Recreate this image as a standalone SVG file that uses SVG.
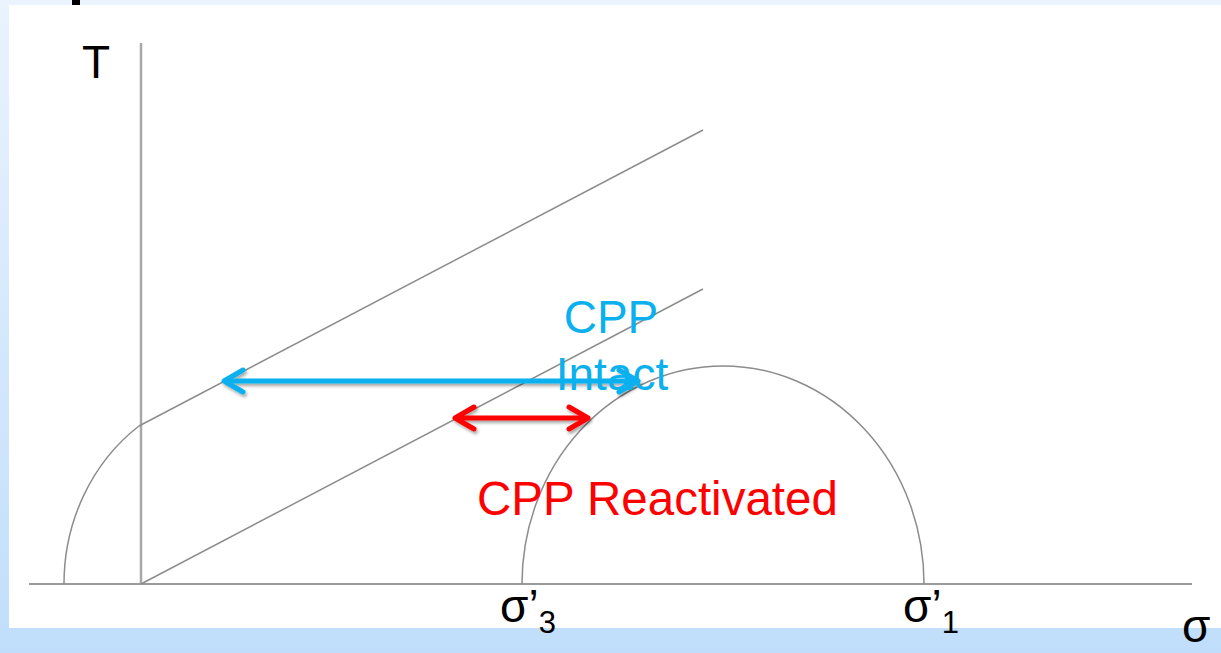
<svg xmlns="http://www.w3.org/2000/svg" width="1221" height="653" viewBox="0 0 1221 653">
  <defs>
    <linearGradient id="bg" x1="0" y1="0" x2="0" y2="1">
      <stop offset="0" stop-color="#eaf3fe"/>
      <stop offset="1" stop-color="#c0defb"/>
    </linearGradient>
    <filter id="shadow" filterUnits="userSpaceOnUse" x="0" y="300" width="1221" height="200">
      <feDropShadow dx="1.5" dy="2.5" stdDeviation="1.5" flood-color="#000" flood-opacity="0.35"/>
    </filter>
    <marker id="headBlue" markerUnits="userSpaceOnUse" viewBox="-24 -14 28 28" refX="0" refY="0" markerWidth="28" markerHeight="28" orient="auto-start-reverse" overflow="visible">
      <path d="M -19 -11 L 0 0 L -19 11" fill="none" stroke="#0bb0ee" stroke-width="5" stroke-linecap="round" stroke-linejoin="round"/>
    </marker>
    <marker id="headRed" markerUnits="userSpaceOnUse" viewBox="-24 -14 28 28" refX="0" refY="0" markerWidth="28" markerHeight="28" orient="auto-start-reverse" overflow="visible">
      <path d="M -19 -11 L 0 0 L -19 11" fill="none" stroke="#ff0000" stroke-width="5" stroke-linecap="round" stroke-linejoin="round"/>
    </marker>
    <style>
      .txt { font-family: "Liberation Sans", Arial, sans-serif; }
      .axis { stroke: #a8a8a8; stroke-width: 2.5; fill: none; }
      .haxis { stroke: #9a9a9a; stroke-width: 2; fill: none; }
      .thin { stroke: #8c8c8c; stroke-width: 1.5; fill: none; }
    </style>
  </defs>

  <g id="background">
    <rect x="0" y="0" width="1221" height="653" fill="url(#bg)"/>
    <rect x="9" y="5" width="1212" height="623" fill="#ffffff"/>
    <rect x="72" y="0" width="8" height="5" fill="#000000"/>
  </g>

  <g id="axes">
    <line class="axis" x1="141" y1="43" x2="141" y2="584"/>
    <line class="haxis" x1="29" y1="584" x2="1192" y2="584"/>
  </g>

  <g id="envelopes">
    <line id="upper-line" class="thin" x1="139" y1="426" x2="703" y2="130"/>
    <line id="lower-line" class="thin" x1="141" y1="584" x2="703" y2="289"/>
    <path id="small-circle" class="thin" d="M 64 584 A 179 194 0 0 1 139 426"/>
    <path id="mohr-circle" class="thin" d="M 522 584 A 201 218 0 0 1 924 584"/>
  </g>

  <g id="labels" class="txt">
    <text id="tau-label" x="82" y="78" font-size="46" fill="#000">T</text>
    <text id="sigma3-label" x="500" y="622" font-size="46" fill="#000">σ’<tspan font-size="31" dy="11">3</tspan></text>
    <text id="sigma1-label" x="903" y="622" font-size="46" fill="#000">σ’<tspan font-size="31" dy="11">1</tspan></text>
    <text id="sigma-label" x="1182" y="642" font-size="46" fill="#000">σ</text>
  </g>

  <g id="connectors" filter="url(#shadow)">
    <line id="cpp-intact-arrow" x1="224" y1="381" x2="638" y2="381" stroke="#0bb0ee" stroke-width="5" marker-start="url(#headBlue)" marker-end="url(#headBlue)"/>
    <line id="cpp-reactivated-arrow" x1="455" y1="418" x2="588" y2="418" stroke="#ff0000" stroke-width="5" marker-start="url(#headRed)" marker-end="url(#headRed)"/>
  </g>

  <g id="cpp-intact" class="txt">
    <text x="611" y="333" font-size="46" fill="#0bb0ee" text-anchor="middle">CPP</text>
    <text x="612" y="390" font-size="46" fill="#0bb0ee" text-anchor="middle">Intact</text>
  </g>

  <g id="cpp-reactivated" class="txt">
    <text x="477" y="515" font-size="47.5" fill="#ff0000">CPP Reactivated</text>
  </g>
</svg>
